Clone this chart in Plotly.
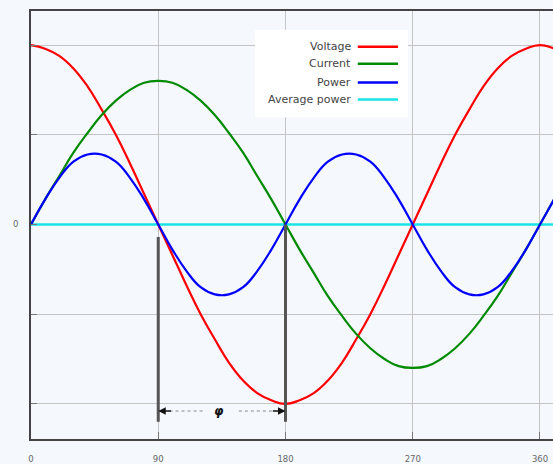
import plotly.graph_objects as go

# ---- data (angle in degrees) ----
angles = [0, 10, 20, 30, 40, 50, 60, 70, 80, 90, 100, 110, 120, 130, 140, 150, 160, 170, 180,
          190, 200, 210, 220, 230, 240, 250, 260, 270, 280, 290, 300, 310, 320, 330, 340, 350,
          360, 370]
voltage = [1.0, 0.98, 0.94, 0.87, 0.77, 0.64, 0.5, 0.34, 0.17, 0.0, -0.17, -0.34, -0.5, -0.64,
           -0.77, -0.87, -0.94, -0.98, -1.0, -0.98, -0.94, -0.87, -0.77, -0.64, -0.5, -0.34,
           -0.17, 0.0, 0.17, 0.34, 0.5, 0.64, 0.77, 0.87, 0.94, 0.98, 1.0, 0.98]
current = [0.0, 0.14, 0.27, 0.4, 0.51, 0.61, 0.69, 0.75, 0.79, 0.8, 0.79, 0.75, 0.69, 0.61,
           0.51, 0.4, 0.27, 0.14, 0.0, -0.14, -0.27, -0.4, -0.51, -0.61, -0.69, -0.75, -0.79,
           -0.8, -0.79, -0.75, -0.69, -0.61, -0.51, -0.4, -0.27, -0.14, 0.0, 0.14]
power = [0.0, 0.14, 0.26, 0.35, 0.39, 0.39, 0.35, 0.26, 0.14, 0.0, -0.14, -0.26, -0.35, -0.39,
         -0.39, -0.35, -0.26, -0.14, 0.0, 0.14, 0.26, 0.35, 0.39, 0.39, 0.35, 0.26, 0.14, 0.0,
         -0.14, -0.26, -0.35, -0.39, -0.39, -0.35, -0.26, -0.14, 0.0, 0.14]
avg_power = [0.0] * len(angles)

series_names = ["Voltage", "Current", "Power", "Average power"]
series_colors = ["#ff0000", "#008a00", "#0000ff", "#19e3e6"]

x_ticks = [0, 90, 180, 270, 360]
x_ticktext = ["0", "90", "180", "270", "360"]
y_ticks = [-1, -0.5, 0, 0.5, 1]
y_ticktext = ["", "", "0", "", ""]

phase_start = 90
phase_end = 180
phase_label = "φ"

BG = "#f5f9fe"
FONT = "DejaVu Sans"

fig = go.Figure()
# draw order: current under power so it is hidden near 0/360 as in the picture
order = [(series_names[3], avg_power, series_colors[3], 2.5),
         (series_names[0], voltage, series_colors[0], 2.2),
         (series_names[1], current, series_colors[1], 2.2),
         (series_names[2], power, series_colors[2], 2.2)]
for name, ys, col, w in order:
    fig.add_trace(go.Scatter(x=angles, y=ys, mode="lines", name=name,
                             line=dict(color=col, width=w, shape="spline", smoothing=1.3),
                             showlegend=False, hoverinfo="skip"))

# phase marker lines and arrow
fig.add_shape(type="line", xref="x", yref="y", x0=phase_start, x1=phase_start,
              y0=-0.07, y1=-1.1, line=dict(color="#555555", width=3))
fig.add_shape(type="line", xref="x", yref="y", x0=phase_end, x1=phase_end,
              y0=0.0, y1=-1.1, line=dict(color="#555555", width=3))
mid = (phase_start + phase_end) / 2
fig.add_shape(type="line", xref="x", yref="y", x0=phase_start + 8, x1=mid - 12,
              y0=-1.04, y1=-1.04, line=dict(color="#888888", width=1, dash="dot"))
fig.add_shape(type="line", xref="x", yref="y", x0=mid + 12, x1=phase_end - 8,
              y0=-1.04, y1=-1.04, line=dict(color="#888888", width=1, dash="dot"))
for xs, xt in [(phase_start, phase_start + 10), (phase_end, phase_end - 10)]:
    fig.add_annotation(x=xs, y=-1.04, ax=xt, ay=-1.04, axref="x", ayref="y",
                       xref="x", yref="y", text="", showarrow=True,
                       arrowhead=2, arrowsize=1, arrowwidth=1.5, arrowcolor="#111111")
fig.add_annotation(x=mid - 2, y=-1.04, xref="x", yref="y", text="<b><i>" + phase_label + "</i></b>",
                   showarrow=False, font=dict(family=FONT, size=12, color="#111111"))

# custom legend (text right, line sample on the right side like the original)
fig.add_shape(type="rect", xref="paper", yref="paper", x0=0.429, x1=0.722, y0=0.752, y1=0.956,
              fillcolor="white", line=dict(width=0), layer="above")
rows_y = [0.9165, 0.877, 0.833, 0.7935]
for name, col, yy in zip(series_names, series_colors, rows_y):
    fig.add_annotation(x=0.617, y=yy, xref="paper", yref="paper", text=name,
                       xanchor="right", yanchor="middle", showarrow=False,
                       font=dict(family=FONT, size=11, color="#444444"))
    fig.add_shape(type="line", xref="paper", yref="paper", x0=0.626, x1=0.703, y0=yy, y1=yy,
                  line=dict(color=col, width=2.5), layer="above")

fig.update_layout(
    width=553, height=464,
    margin=dict(l=31, r=0, t=11, b=22),
    paper_bgcolor=BG, plot_bgcolor=BG,
    font=dict(family=FONT, size=8.5, color="#666666"),
    showlegend=False,
)
fig.update_xaxes(range=[0, 369.2], tickvals=x_ticks, ticktext=x_ticktext,
                 showgrid=True, gridcolor="#c4c4c4", gridwidth=1,
                 zeroline=False, showline=True, linecolor="#444444", linewidth=2,
                 mirror=True, ticks="inside", ticklen=7, tickcolor="#777777",
                 ticklabelstandoff=11)
fig.update_yaxes(range=[-1.196, 1.19], tickvals=y_ticks, ticktext=y_ticktext,
                 showgrid=True, gridcolor="#c4c4c4", gridwidth=1,
                 zeroline=False, showline=True, linecolor="#444444", linewidth=2,
                 ticks="inside", ticklen=6, tickcolor="#777777",
                 ticklabelstandoff=9)

fig.write_html("out.html", config={"displayModeBar": False},
               post_script="document.body.style.margin='0';document.body.style.overflow='hidden';")
